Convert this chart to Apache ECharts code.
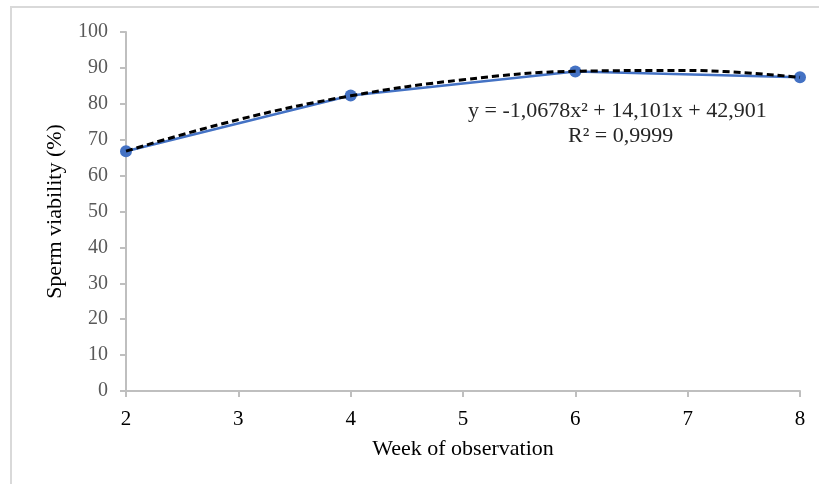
<!DOCTYPE html>
<html>
<head>
<meta charset="utf-8">
<script src="https://cdn.jsdelivr.net/npm/echarts@6/dist/echarts.min.js"></script>
<style>
  html, body { margin: 0; padding: 0; background: #fff; }
  #chart { width: 819px; height: 484px; }
</style>
</head>
<body>
<div id="chart"></div>
<script>
// observed values (week, viability %)
var weeks = [2, 4, 6, 8];
var viability = [66.8, 82.3, 89.0, 87.4];

// polynomial trend read at each week 2..8
var trendWeeks = [2, 3, 4, 5, 6, 7, 8];
var trendValues = [66.83, 75.59, 82.22, 86.71, 89.07, 89.29, 87.37];

var yTicks = [0, 10, 20, 30, 40, 50, 60, 70, 80, 90, 100];

var serif = '"Liberation Serif", "Times New Roman", serif';

var myChart = echarts.init(document.getElementById('chart'));
var option = {
	animation: false,
	grid: { left: 126, right: 19, top: 32, bottom: 93 },
	graphic: [
		{
			type: 'rect',
			shape: { x: 11, y: 7, width: 830, height: 500 },
			style: { fill: 'none', stroke: '#d9d9d9', lineWidth: 2 },
			silent: true
		},
		{
			type: 'text', left: 468, top: 100,
			style: { text: 'y = -1,0678x² + 14,101x + 42,901', font: '22px ' + serif, fill: '#262626' }
		},
		{
			type: 'text', left: 568, top: 125,
			style: { text: 'R² = 0,9999', font: '22px ' + serif, fill: '#262626' }
		}
	],
	xAxis: {
		type: 'value',
		min: 2, max: 8, interval: 1,
		name: 'Week of observation',
		nameLocation: 'middle',
		nameGap: 47,
		nameTextStyle: { fontFamily: serif, fontSize: 22, color: '#000' },
		axisLine: { lineStyle: { color: '#bfbfbf', width: 2 } },
		axisTick: { show: true, length: 6, lineStyle: { color: '#bfbfbf', width: 2 } },
		axisLabel: { fontFamily: serif, fontSize: 21, color: '#000', margin: 18 },
		splitLine: { show: false }
	},
	yAxis: {
		type: 'value',
		min: 0, max: 100, interval: 10,
		name: 'Sperm viability (%)',
		nameLocation: 'middle',
		nameGap: 60,
		nameTextStyle: { fontFamily: serif, fontSize: 22, color: '#000' },
		axisLine: { show: true, lineStyle: { color: '#bfbfbf', width: 2 } },
		axisTick: { show: true, length: 6, lineStyle: { color: '#bfbfbf', width: 2 } },
		axisLabel: {
			fontFamily: serif, fontSize: 20, color: '#595959', margin: 18,
			formatter: function (v) { return yTicks.indexOf(v) >= 0 ? String(v) : ''; }
		},
		splitLine: { show: false }
	},
	series: [
		{
			name: 'Viability',
			type: 'line',
			data: weeks.map(function (w, i) { return [w, viability[i]]; }),
			symbol: 'circle',
			symbolSize: 12,
			lineStyle: { color: '#4472c4', width: 2.5 },
			itemStyle: { color: '#4472c4' },
			z: 2
		},
		{
			name: 'Trend',
			type: 'line',
			data: trendWeeks.map(function (w, i) { return [w, trendValues[i]]; }),
			smooth: 0.4,
			symbol: 'none',
			lineStyle: { color: '#000', width: 3, type: [7, 4] },
			z: 3
		}
	]
};
myChart.setOption(option);
</script>
</body>
</html>
